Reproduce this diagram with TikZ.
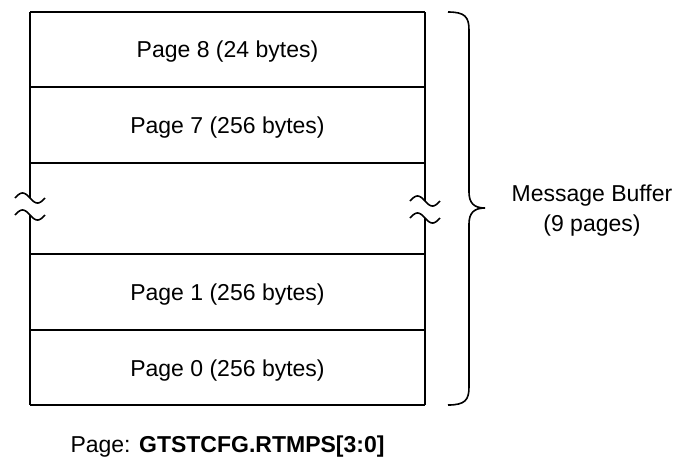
\documentclass[tikz,border=0pt]{standalone}
\usepackage{fontspec}
\setmainfont{Liberation Sans}
\begin{document}
\begin{tikzpicture}[x=1pt,y=-1pt,
  frame/.style={line width=1.6pt,black},
  lbl/.style={anchor=base,inner sep=0pt,font=\fontsize{23}{29}\selectfont},
  tildeline/.style={line width=1.6pt,black}]
\useasboundingbox (0,0) rectangle (678,459);
% row coordinates
\coordinate (TL) at (30,12);  \coordinate (TR) at (425,12);
\coordinate (A1) at (30,87);  \coordinate (A2) at (425,87);
\coordinate (B1) at (30,163); \coordinate (B2) at (425,163);
\coordinate (C1) at (30,254); \coordinate (C2) at (425,254);
\coordinate (D1) at (30,330); \coordinate (D2) at (425,330);
\coordinate (BL) at (30,405); \coordinate (BR) at (425,405);
\coordinate (LU) at (30,198); \coordinate (LD) at (30,215);
\coordinate (RU) at (425,201); \coordinate (RD) at (425,218);
% horizontal lines
\draw[frame] (TL) -- (TR);
\draw[frame] (A1) -- (A2);
\draw[frame] (B1) -- (B2);
\draw[frame] (C1) -- (C2);
\draw[frame] (D1) -- (D2);
\draw[frame] (BL) -- (BR);
% vertical lines with break
\draw[frame] (TL) -- (LU);
\draw[frame] (LD) -- (BL);
\draw[frame] (TR) -- (RU);
\draw[frame] (RD) -- (BR);
% break marks
\foreach \c in {LU,LD,RU,RD}{
  \draw[tildeline,shift={(\c)}] plot[domain=-15:15,samples=40,smooth] (\x,{5*sin(12*\x)});
}
% labels
\node[lbl] (p8) at (227.5,57) {Page 8 (24 bytes)};
\node[lbl] (p7) at (227.5,133) {Page 7 (256 bytes)};
\node[lbl] (p1) at (227.5,300) {Page 1 (256 bytes)};
\node[lbl] (p0) at (227.5,376) {Page 0 (256 bytes)};
% brace
\draw[line width=1.6pt] (448,12) .. controls (465,12) and (469,17) .. (469,30)
  -- (469,192) .. controls (469,203) and (474,208) .. (485,208)
  .. controls (474,208) and (469,213) .. (469,224)
  -- (469,387) .. controls (469,400) and (465,405) .. (448,405);
\node[lbl] (mb) at (592,201) {Message Buffer};
\node[lbl] (np) at (592,231) {(9 pages)};
\node[lbl] (pg) at (227.5,452) {Page: \textbf{GTSTCFG.RTMPS[3:0]}};
\end{tikzpicture}
\end{document}
